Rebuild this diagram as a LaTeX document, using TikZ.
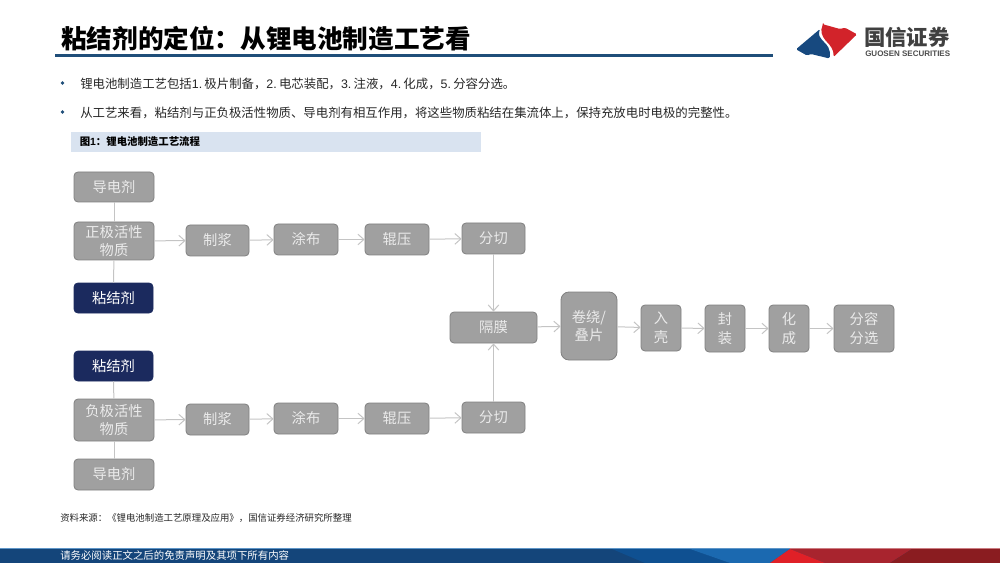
\documentclass[tikz,border=0pt]{standalone}
\usepackage{fontspec}
\setmainfont{Liberation Sans}
\newfontfamily\cjk{Noto Sans CJK SC}
\usetikzlibrary{arrows.meta,positioning}
\definecolor{boxgray}{HTML}{A0A0A0}
\definecolor{boxline}{HTML}{808080}
\definecolor{navy}{HTML}{1B2A5E}
\definecolor{linegray}{HTML}{C4C4C4}
\definecolor{gsblue}{HTML}{1F4E79}
\definecolor{capblue}{HTML}{D9E3F0}
\definecolor{logoblue}{HTML}{17497F}
\definecolor{logored}{HTML}{D2232A}
\definecolor{footbase}{HTML}{14457A}
\definecolor{footmid}{HTML}{0F5091}
\definecolor{footlight}{HTML}{1B69B0}
\definecolor{footred}{HTML}{E02027}
\definecolor{footwine}{HTML}{A8242E}
\definecolor{footdark}{HTML}{8A1C20}
\tikzset{
	stepbox/.style={draw=boxline,fill=boxgray,rounded corners=3pt,text=white!92!black,line width=0.6pt,
		font=\cjk\fontsize{10.7}{13}\selectfont,align=center,inner sep=0pt},
	navybox/.style={stepbox,draw=navy,fill=navy,text=white},
	link/.style={draw=linegray,line width=0.75pt},
	flow/.style={link,-{Straight Barb[length=4.5pt,width=8pt]}},
	bodytext/.style={anchor=west,inner sep=0pt,font=\fontsize{9.3}{12}\selectfont,text=black!85}
}
\newcommand{\stepnode}[6][stepbox]{\node[#1,minimum width=#4*0.75pt,minimum height=#5*0.75pt] (#2) at (#3) {#6};}
\newcommand{\numsp}{\hspace{1.7pt}}
\begin{document}
\begin{tikzpicture}[x=0.75pt,y=-0.75pt]
	\useasboundingbox (0,0) rectangle (1000,563);
	% heading
	\node[anchor=west,inner sep=0pt,font=\cjk\bfseries\fontsize{19.2}{22}\selectfont] (title) at (61,39) {粘结剂的定位：从锂电池制造工艺看};
	\fill[gsblue] (55,54.5) rectangle (773,57.5);
	% logo
	\fill[logoblue,rounded corners=1pt] (796,49.3) -- (820,29) .. controls (818,35) and (820,38) .. (823,41) .. controls (827,45) and (831,49) .. (829.5,58.5) -- (811,54) -- (807,55.5) -- cycle;
	\fill[logored,rounded corners=1pt] (823,24.3) -- (840,29) -- (845,27.7) -- (857,34.3) -- (833.5,57) .. controls (834,50) and (830,45) .. (826,41) .. controls (822,36) and (820,31) .. cycle;
	\node[anchor=west,inner sep=0pt,text=black!75,font=\cjk\bfseries\fontsize{16}{18}\selectfont] (logocn) at (864,37) {国信证券};
	\node[anchor=west,inner sep=0pt,text=black!70,font=\bfseries\fontsize{6}{8}\selectfont] (logoen) at (865,54) {GUOSEN SECURITIES};
	% bullets
	\fill[gsblue] (62.5,83) circle (1.8);
	\fill[gsblue] (62.5,112) circle (1.8);
	\node[bodytext] (lineone) at (80,83.5) {{\cjk 锂电池制造工艺包括}1.\numsp{\cjk 极片制备，}2.\numsp{\cjk 电芯装配，}3.\numsp{\cjk 注液，}4.\numsp{\cjk 化成，}5.\numsp{\cjk 分容分选。}};
	\node[bodytext,font=\cjk\fontsize{9.3}{12}\selectfont] (linetwo) at (80,112.5) {从工艺来看，粘结剂与正负极活性物质、导电剂有相互作用，将这些物质粘结在集流体上，保持充放电时电极的完整性。};
	\fill[capblue] (71,132) rectangle (481,152);
	\node[anchor=west,inner sep=0pt,font=\bfseries\fontsize{7.8}{10}\selectfont] (caption) at (79.5,142) {{\cjk 图}1{\cjk ：锂电池制造工艺流程}};
	% upper row
	\stepnode{condup}{114,187}{80}{30}{导电剂}
	\stepnode{actup}{114,241}{80}{38}{正极活性\\物质}
	\stepnode[navybox]{bindup}{113.5,298}{79}{30}{粘结剂}
	\stepnode{slurup}{217.5,240.5}{63}{31}{制浆}
	\stepnode{coatup}{306,239.5}{64}{31}{涂布}
	\stepnode{rollup}{397,239.5}{64}{31}{辊压}
	\stepnode{cutup}{493.5,238.5}{63}{31}{分切}
	% lower row
	\stepnode[navybox]{binddn}{113.5,366}{79}{30}{粘结剂}
	\stepnode{actdn}{114,420}{80}{42}{负极活性\\物质}
	\stepnode{conddn}{114,474.5}{80}{31}{导电剂}
	\stepnode{slurdn}{217.5,419.5}{63}{31}{制浆}
	\stepnode{coatdn}{306,418.5}{64}{31}{涂布}
	\stepnode{rolldn}{397,418.5}{64}{31}{辊压}
	\stepnode{cutdn}{493.5,417.5}{63}{31}{分切}
	% assembly
	\stepnode{sep}{493.5,327.5}{87}{31}{隔膜}
	\stepnode[stepbox,rounded corners=6pt]{wind}{589,326}{56}{68}{卷绕/\\[0.5pt]叠片}
	\stepnode{shell}{661,328}{40}{46}{入\\[1pt]壳}
	\stepnode{seal}{725,328.5}{40}{47}{封\\[1pt]装}
	\stepnode{form}{789,328.5}{40}{47}{化\\[1pt]成}
	\stepnode{grade}{864,328.5}{60}{47}{分容\\[1pt]分选}
	% links
	\draw[link] (condup) -- (actup);
	\draw[link] (actup) -- (bindup);
	\draw[link] (binddn) -- (actdn);
	\draw[link] (actdn) -- (conddn);
	\foreach \a/\b in {actup/slurup,slurup/coatup,coatup/rollup,rollup/cutup,actdn/slurdn,slurdn/coatdn,coatdn/rolldn,rolldn/cutdn,sep/wind,wind/shell,shell/seal,seal/form,form/grade}
		\draw[flow] (\a) -- (\b);
	\draw[flow] (cutup) -- (sep);
	\draw[flow] (cutdn) -- (sep);
	% source
	\node[anchor=west,inner sep=0pt,text=black!85,font=\cjk\fontsize{7.05}{9}\selectfont] (source) at (60,518.5) {资料来源：《锂电池制造工艺原理及应用》，国信证券经济研究所整理};
	% footer
	\fill[footbase] (0,548) rectangle (1000,563);
	\fill[footmid] (612,549) -- (690,549) -- (730,563) -- (645,563) -- cycle;
	\fill[footlight] (690,549) -- (790,549) -- (770,563) -- (730,563) -- cycle;
	\fill[footwine] (790,549) -- (912,549) -- (890,563) -- (825,563) -- cycle;
	\fill[footred] (790,549) -- (825,563) -- (770,563) -- cycle;
	\fill[footdark] (912,549) -- (1000,549) -- (1000,563) -- (890,563) -- cycle;
	\fill[footlight!70!white] (0,548) rectangle (790,549);
	\fill[footwine!60!white] (790,548) rectangle (1000,549);
	\node[anchor=west,inner sep=0pt,text=white,font=\cjk\fontsize{7.8}{10}\selectfont] (footer) at (60,556) {请务必阅读正文之后的免责声明及其项下所有内容};
\end{tikzpicture}
\end{document}
